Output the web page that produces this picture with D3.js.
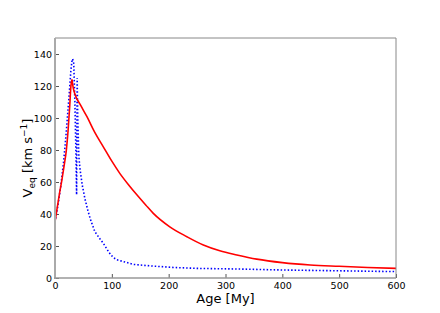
<!DOCTYPE html>
<html>
<head>
<meta charset="utf-8">
<script src="https://cdn.jsdelivr.net/npm/d3@7"></script>
<style>
body { margin: 0; background: #fff; }
text { font-family: "DejaVu Sans", sans-serif; }
</style>
</head>
<body>
<script>
// age [My] and V_eq [km/s]
var redAge = [0, 3, 8, 12, 16, 20, 23, 26, 28, 30, 32, 35, 45, 56, 70, 85, 100, 114, 130, 144, 160, 173, 202, 232, 261, 290, 320, 355, 400, 449, 500, 550, 600];
var redVeq = [35, 42, 53, 61, 70, 80, 92, 108, 120, 124, 119, 115, 108, 101, 91, 82, 73, 65.4, 58, 52, 45.5, 40.4, 32, 25.8, 20.6, 17, 14.4, 11.8, 9.6, 8.1, 7.3, 6.6, 6];

var blueAge = [0, 5, 10, 15, 20, 25, 28, 30, 31, 33, 35, 37, 38, 39, 40, 41, 42, 44, 48, 53, 58, 62, 70, 79, 85, 95, 102, 108, 120, 138, 170, 208, 250, 326, 400, 500, 600];
var blueVeq = [35, 45, 57, 72, 92, 115, 130, 136, 137, 134, 110, 75, 52, 125, 100, 88, 76, 68, 58, 49, 42, 37, 29, 24.5, 21.7, 16, 13, 11.5, 10.3, 8.5, 7.5, 6.6, 6, 5.6, 5, 4.5, 4];

var xTicks = [0, 100, 200, 300, 400, 500, 600];
var yTicks = [0, 20, 40, 60, 80, 100, 120, 140];

var W = 440, H = 313;
var m = {left: 55, right: 44, top: 38, bottom: 35};

var svg = d3.select("body").append("svg").attr("width", W).attr("height", H);

var x = d3.scaleLinear().domain([0, 600]).range([m.left, W - m.right]);
var y = d3.scaleLinear().domain([0, 150]).range([H - m.bottom, m.top]);

var g = svg.append("g");

// inward ticks
var xAxis = g.append("g").attr("transform", "translate(0," + (H - m.bottom) + ")")
    .call(d3.axisBottom(x).tickValues(xTicks).tickSizeInner(-4).tickSizeOuter(0).tickPadding(4));
var yAxis = g.append("g").attr("transform", "translate(" + m.left + ",0)")
    .call(d3.axisLeft(y).tickValues(yTicks).tickSizeInner(-4).tickSizeOuter(0).tickPadding(3));

[xAxis, yAxis].forEach(function(a){
    a.select(".domain").remove();
    a.selectAll(".tick line").attr("stroke", "#555");
    a.selectAll("text").attr("font-size", 9.5).attr("fill", "#000");
});

var line = d3.line().x(function(d){ return x(d[0]); }).y(function(d){ return y(d[1]); });
var smooth = d3.line().curve(d3.curveMonotoneX)
    .x(function(d){ return x(d[0]); }).y(function(d){ return y(d[1]); });

var redPts = redAge.map(function(a, i){ return [a, redVeq[i]]; });
var bluePts = blueAge.map(function(a, i){ return [a, blueVeq[i]]; });

g.append("path").datum(bluePts).attr("d", line)
    .attr("fill", "none").attr("stroke", "#0000ff").attr("stroke-width", 1.6)
    .attr("stroke-dasharray", "1.5,2");

// red: rising and decaying parts drawn smooth, meeting at a sharp peak
var peak = redVeq.indexOf(d3.max(redVeq));
[redPts.slice(0, peak + 1), redPts.slice(peak)].forEach(function(seg){
    g.append("path").datum(seg).attr("d", smooth)
        .attr("fill", "none").attr("stroke", "#ff0000").attr("stroke-width", 1.6)
        .attr("stroke-linejoin", "miter");
});

// frame
g.append("line").attr("x1", m.left).attr("x2", W - m.right).attr("y1", m.top).attr("y2", m.top)
    .attr("stroke", "#888").attr("stroke-width", 1);
g.append("line").attr("x1", W - m.right).attr("x2", W - m.right).attr("y1", m.top).attr("y2", H - m.bottom)
    .attr("stroke", "#888").attr("stroke-width", 1);
g.append("line").attr("x1", m.left).attr("x2", m.left).attr("y1", m.top).attr("y2", H - m.bottom + 1)
    .attr("stroke", "#aaa").attr("stroke-width", 2);
g.append("line").attr("x1", m.left - 1).attr("x2", W - m.right).attr("y1", H - m.bottom).attr("y2", H - m.bottom)
    .attr("stroke", "#999").attr("stroke-width", 1.5);

svg.append("text").attr("x", (m.left + W - m.right) / 2).attr("y", 303)
    .attr("text-anchor", "middle").attr("font-size", 13).text("Age [My]");

var yl = svg.append("text").attr("transform", "translate(32," + ((m.top + H - m.bottom) / 2) + ") rotate(-90)")
    .attr("text-anchor", "middle").attr("font-size", 13);
yl.append("tspan").text("V");
yl.append("tspan").attr("font-size", 9).attr("dy", 3).text("eq");
yl.append("tspan").attr("dy", -3).text(" [km s");
yl.append("tspan").attr("font-size", 9).attr("dy", -5).text("−1");
yl.append("tspan").attr("dy", 5).text("]");
</script>
</body>
</html>
